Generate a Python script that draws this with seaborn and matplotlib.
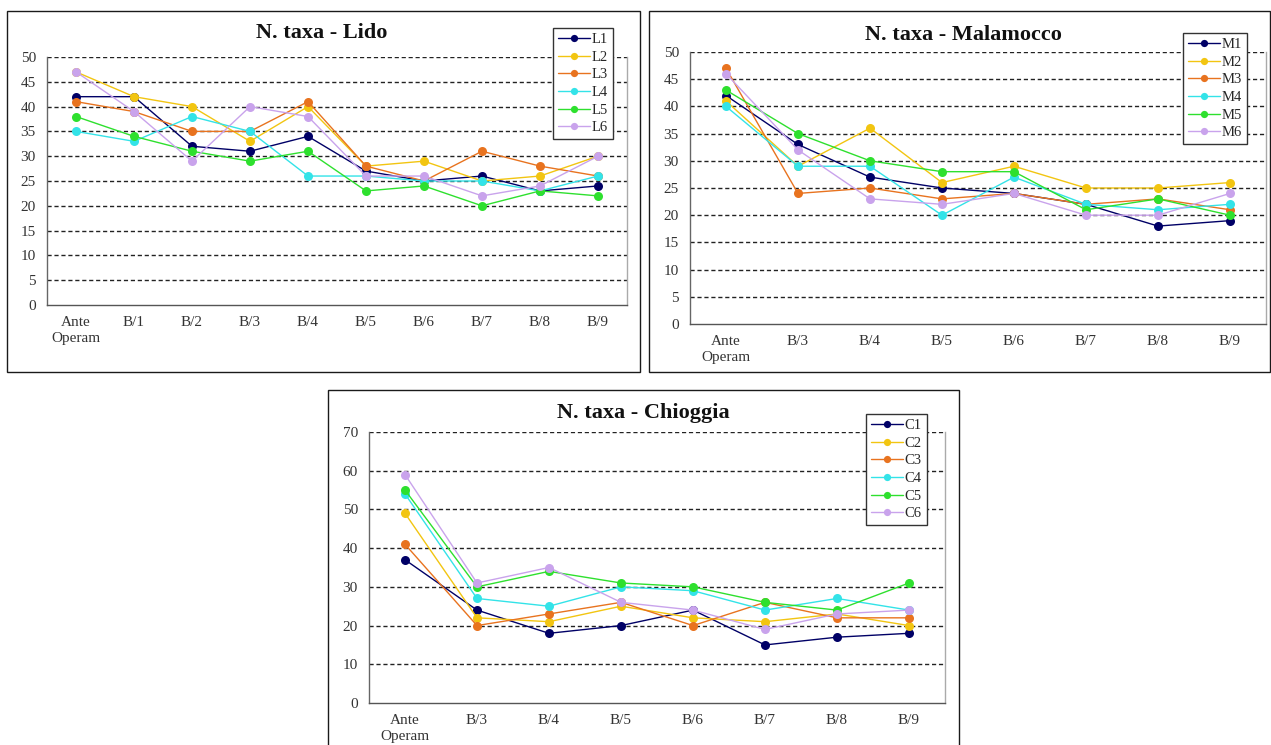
import matplotlib
matplotlib.use("Agg")
import matplotlib.pyplot as plt
from matplotlib.patches import Rectangle
from matplotlib.ticker import FixedLocator
import numpy as np
import pandas as pd
import seaborn as sns

# Sampling campaigns
lido_periods = ["Ante\nOperam", "B/1", "B/2", "B/3", "B/4", "B/5", "B/6", "B/7", "B/8", "B/9"]
other_periods = ["Ante\nOperam", "B/3", "B/4", "B/5", "B/6", "B/7", "B/8", "B/9"]

# Number of taxa per station - Lido
L1 = [42, 42, 32, 31, 34, 27, 25, 26, 23, 24]
L2 = [47, 42, 40, 33, 40, 28, 29, 25, 26, 30]
L3 = [41, 39, 35, 35, 41, 28, 25, 31, 28, 26]
L4 = [35, 33, 38, 35, 26, 26, 25, 25, 23, 26]
L5 = [38, 34, 31, 29, 31, 23, 24, 20, 23, 22]
L6 = [47, 39, 29, 40, 38, 26, 26, 22, 24, 30]

# Number of taxa per station - Malamocco
M1 = [42, 33, 27, 25, 24, 22, 18, 19]
M2 = [41, 29, 36, 26, 29, 25, 25, 26]
M3 = [47, 24, 25, 23, 24, 22, 23, 21]
M4 = [40, 29, 29, 20, 27, 22, 21, 22]
M5 = [43, 35, 30, 28, 28, 21, 23, 20]
M6 = [46, 32, 23, 22, 24, 20, 20, 24]

# Number of taxa per station - Chioggia
C1 = [37, 24, 18, 20, 24, 15, 17, 18]
C2 = [49, 22, 21, 25, 22, 21, 23, 20]
C3 = [41, 20, 23, 26, 20, 26, 22, 22]
C4 = [54, 27, 25, 30, 29, 24, 27, 24]
C5 = [55, 30, 34, 31, 30, 26, 24, 31]
C6 = [59, 31, 35, 26, 24, 19, 23, 24]

station_colors = ["#000066", "#F2C511", "#E8731F", "#33E3E8", "#2EE02E", "#C9A3EC"]

sns.set_style("white")
plt.rcParams["font.family"] = ["Liberation Serif", "DejaVu Serif"]

W, H = 1271, 745
fig = plt.figure(figsize=(W / 100, H / 100), dpi=100)
fig.patch.set_facecolor("white")


def fx(px):
    return px / W


def fy(py):
    return 1 - py / H


# outer chart frames
for (x0, y0, x1, y1) in [(7, 11, 640, 372), (649, 11, 1270, 372), (328, 390, 959, 760)]:
    fig.patches.append(Rectangle((fx(x0), fy(y1)), fx(x1 - x0), (y1 - y0) / H,
                                 transform=fig.transFigure, fill=False,
                                 edgecolor="#1a1a1a", linewidth=1.0))


def draw_panel(rect, periods, series, names, ymax, ystep, title, title_xy, legend_xy):
    left, top, right, bottom = rect
    ax = fig.add_axes([fx(left), fy(bottom), fx(right - left), (bottom - top) / H])
    rows = []
    for name, vals in zip(names, series):
        for i, v in enumerate(vals):
            rows.append({"pos": i, "value": v, "station": name})
    df = pd.DataFrame(rows)
    sns.lineplot(data=df, x="pos", y="value", hue="station", palette=station_colors,
                 marker="o", markersize=6.5, markeredgewidth=0, linewidth=1.0,
                 errorbar=None, ax=ax, legend=True)
    n = len(periods)
    ax.set_xlim(-0.5, n - 0.5)
    ax.set_ylim(0, ymax)
    ax.set_xlabel("")
    ax.set_ylabel("")
    ax.set_xticks(range(n))
    ax.set_xticklabels(periods, fontsize=11, color="#333333", linespacing=1.25)
    ax.xaxis.set_minor_locator(FixedLocator(np.arange(-0.5, n, 1.0)))
    ax.tick_params(axis="x", which="major", length=0, pad=8)
    ax.tick_params(axis="x", which="minor", length=5, width=1, color="#555555", direction="out")
    yt = np.arange(0, ymax + 1, ystep)
    ax.set_yticks(yt)
    ax.set_yticklabels([str(v) for v in yt], fontsize=11, color="#333333")
    ax.tick_params(axis="y", length=4, width=1, color="#555555", direction="out", pad=4)
    for v in yt[1:]:
        ax.axhline(v, color="#222222", linewidth=1.0, linestyle=(0, (3, 2)), zorder=0.5)
    ax.spines["top"].set_visible(False)
    ax.spines["left"].set_color("#666666")
    ax.spines["bottom"].set_color("#555555")
    ax.spines["right"].set_color("#aaaaaa")
    for s in ax.spines.values():
        s.set_linewidth(1.0)
    handles, labels = ax.get_legend_handles_labels()
    ax.get_legend().remove()
    leg = ax.legend(handles, labels, loc="upper right",
                    bbox_to_anchor=(fx(legend_xy[0]), fy(legend_xy[1])),
                    bbox_transform=fig.transFigure, borderaxespad=0,
                    fontsize=10.5, frameon=True, fancybox=False, framealpha=1,
                    edgecolor="#333333", labelspacing=0.3, handlelength=2.2,
                    handletextpad=0.1, borderpad=0.35, markerscale=0.8)
    leg.get_frame().set_linewidth(1.0)
    fig.text(fx(title_xy[0]), fy(title_xy[1]), title, ha="center", va="center",
             fontsize=16, fontweight="bold", color="#111111")
    return ax


draw_panel((47, 57, 627, 305), lido_periods, [L1, L2, L3, L4, L5, L6],
           ["L1", "L2", "L3", "L4", "L5", "L6"], 50, 5,
           "N. taxa - Lido", (322, 33), (613, 28))
draw_panel((690, 52, 1266, 324), other_periods, [M1, M2, M3, M4, M5, M6],
           ["M1", "M2", "M3", "M4", "M5", "M6"], 50, 5,
           "N. taxa - Malamocco", (963, 35), (1247, 33))
draw_panel((369, 432, 945, 703), other_periods, [C1, C2, C3, C4, C5, C6],
           ["C1", "C2", "C3", "C4", "C5", "C6"], 70, 10,
           "N. taxa - Chioggia", (643, 413), (927, 414))

fig.savefig("out.png", dpi=100, facecolor="white")
